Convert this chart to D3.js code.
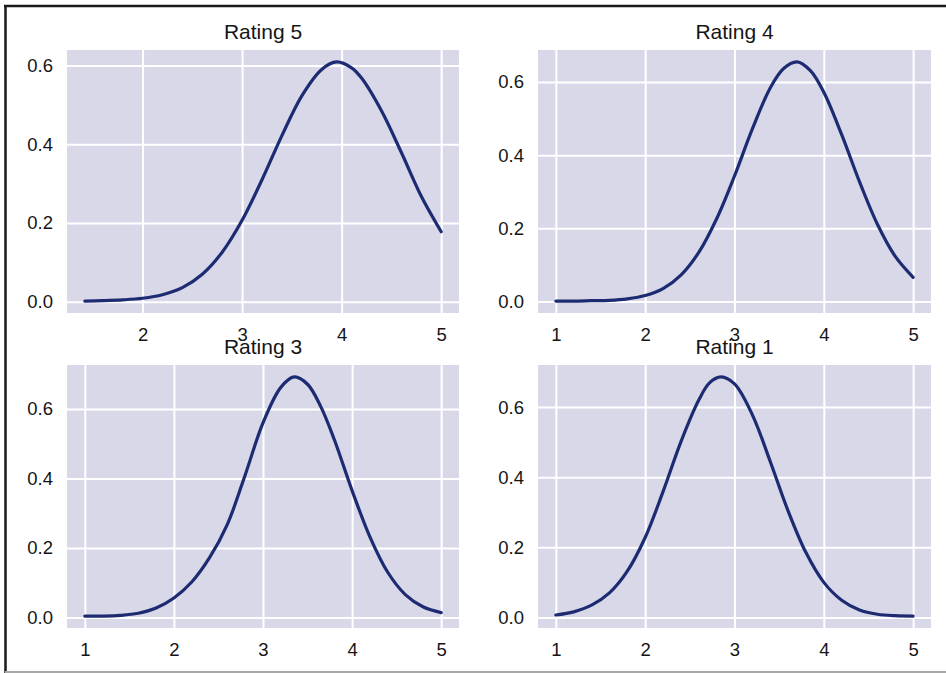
<!DOCTYPE html>
<html>
<head>
<meta charset="utf-8">
<script src="https://cdn.jsdelivr.net/npm/d3@7"></script>
<style>
  html, body { margin: 0; padding: 0; background: #ffffff; }
  svg { display: block; }
</style>
</head>
<body>
<svg id="chart" width="946" height="673"></svg>
<script>
// Density of each rating group over the 1–5 score range
const panelTitles = ["Rating 5", "Rating 4", "Rating 3", "Rating 1"];

const xRating5 = [1.42, 1.6, 1.8, 2.0, 2.2, 2.4, 2.6, 2.8, 3.0, 3.2, 3.4, 3.6, 3.8, 3.95, 4.1, 4.2, 4.4, 4.6, 4.8, 5.0];
const yRating5 = [0.002, 0.003, 0.005, 0.009, 0.018, 0.036, 0.070, 0.126, 0.207, 0.310, 0.422, 0.523, 0.590, 0.609, 0.594, 0.568, 0.485, 0.379, 0.268, 0.178];

const xRating4 = [1.0, 1.2, 1.4, 1.6, 1.8, 2.0, 2.2, 2.4, 2.6, 2.8, 3.0, 3.2, 3.4, 3.55, 3.7, 3.85, 4.0, 4.2, 4.4, 4.6, 4.8, 5.0];
const yRating4 = [0.001, 0.001, 0.002, 0.003, 0.007, 0.016, 0.035, 0.072, 0.134, 0.226, 0.343, 0.472, 0.584, 0.637, 0.655, 0.631, 0.572, 0.456, 0.327, 0.211, 0.123, 0.066];

const xRating3 = [1.0, 1.2, 1.4, 1.6, 1.8, 2.0, 2.2, 2.4, 2.6, 2.8, 3.0, 3.2, 3.35, 3.5, 3.65, 3.8, 4.0, 4.2, 4.4, 4.6, 4.8, 5.0];
const yRating3 = [0.004, 0.004, 0.006, 0.012, 0.027, 0.056, 0.102, 0.172, 0.268, 0.410, 0.560, 0.662, 0.692, 0.671, 0.606, 0.512, 0.365, 0.232, 0.130, 0.065, 0.030, 0.014];

const xRating1 = [1.0, 1.2, 1.4, 1.6, 1.8, 2.0, 2.2, 2.4, 2.6, 2.72, 2.85, 3.0, 3.2, 3.4, 3.6, 3.8, 4.0, 4.2, 4.4, 4.6, 4.8, 5.0];
const yRating1 = [0.007, 0.016, 0.035, 0.070, 0.132, 0.228, 0.359, 0.501, 0.620, 0.669, 0.686, 0.666, 0.578, 0.445, 0.304, 0.185, 0.100, 0.049, 0.021, 0.009, 0.005, 0.004];

const xTickValues = [1, 2, 3, 4, 5];
const yTickValues = [0.0, 0.2, 0.4, 0.6];

const panels = [
  { title: panelTitles[0], xs: xRating5, ys: yRating5 },
  { title: panelTitles[1], xs: xRating4, ys: yRating4 },
  { title: panelTitles[2], xs: xRating3, ys: yRating3 },
  { title: panelTitles[3], xs: xRating1, ys: yRating1 }
];

// Subplot grid boxes (2 x 2)
const boxes = [
  { left: 67,  right: 459, top: 50,  bottom: 313 },
  { left: 538, right: 931, top: 50,  bottom: 313 },
  { left: 67,  right: 459, top: 365, bottom: 628 },
  { left: 538, right: 931, top: 365, bottom: 628 }
];

const FONT = "'Liberation Sans', Arial, Helvetica, sans-serif";
const svg = d3.select("#chart");

// Outer frame
svg.append("line").attr("x1", 4).attr("x2", 946).attr("y1", 6).attr("y2", 6)
  .attr("stroke", "#1a1a1a").attr("stroke-width", 2.5);
svg.append("line").attr("x1", 5.5).attr("x2", 5.5).attr("y1", 5).attr("y2", 673)
  .attr("stroke", "#1a1a1a").attr("stroke-width", 2.5);
svg.append("line").attr("x1", 5).attr("x2", 946).attr("y1", 672).attr("y2", 672)
  .attr("stroke", "#a8a8a8").attr("stroke-width", 2);

// Autoscale with 5% padding on each side of the data range
function padded(values) {
  const [lo, hi] = d3.extent(values);
  const m = (hi - lo) * 0.05;
  return [lo - m, hi + m];
}

panels.forEach((p, i) => {
  const b = boxes[i];
  const x = d3.scaleLinear().domain(padded(p.xs)).range([b.left, b.right]);
  const y = d3.scaleLinear().domain(padded(p.ys)).range([b.bottom, b.top]);
  const xt = xTickValues.filter(v => v >= x.domain()[0] && v <= x.domain()[1]);
  const yt = yTickValues.filter(v => v >= y.domain()[0] && v <= y.domain()[1]);

  const g = svg.append("g");

  g.append("rect")
    .attr("x", b.left).attr("y", b.top)
    .attr("width", b.right - b.left).attr("height", b.bottom - b.top)
    .attr("fill", "#d9d8e8");

  // White grid with tick labels
  g.append("g")
    .attr("transform", `translate(0,${b.bottom})`)
    .call(d3.axisBottom(x).tickValues(xt).tickSize(-(b.bottom - b.top)).tickFormat(d3.format("d")).tickPadding(15))
    .call(a => a.select(".domain").remove())
    .call(a => a.selectAll(".tick line").attr("stroke", "#ffffff").attr("stroke-width", 2))
    .call(a => a.selectAll(".tick text")
      .attr("font-family", FONT).attr("font-size", 18.5).attr("fill", "#151515"));

  g.append("g")
    .attr("transform", `translate(${b.left},0)`)
    .call(d3.axisLeft(y).tickValues(yt).tickSize(-(b.right - b.left)).tickFormat(d3.format(".1f")).tickPadding(14))
    .call(a => a.select(".domain").remove())
    .call(a => a.selectAll(".tick line").attr("stroke", "#ffffff").attr("stroke-width", 2))
    .call(a => a.selectAll(".tick text")
      .attr("font-family", FONT).attr("font-size", 18.5).attr("fill", "#151515"));

  const pts = p.xs.map((v, k) => [v, p.ys[k]]);
  g.append("path")
    .datum(pts)
    .attr("fill", "none")
    .attr("stroke", "#1c2b72")
    .attr("stroke-width", 3.2)
    .attr("stroke-linecap", "round")
    .attr("stroke-linejoin", "round")
    .attr("d", d3.line().x(d => x(d[0])).y(d => y(d[1])).curve(d3.curveCatmullRom.alpha(0.5)));

  g.append("text")
    .attr("x", (b.left + b.right) / 2)
    .attr("y", b.top - 11)
    .attr("text-anchor", "middle")
    .attr("font-family", FONT)
    .attr("font-size", 21)
    .attr("fill", "#151515")
    .text(p.title);
});
</script>
</body>
</html>
